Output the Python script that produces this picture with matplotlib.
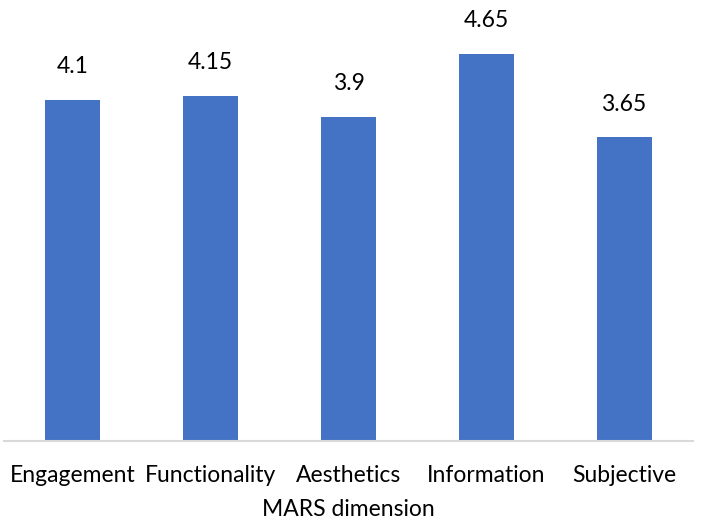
import matplotlib
matplotlib.use("Agg")
import matplotlib.pyplot as plt

dimensions = ["Engagement", "Functionality", "Aesthetics", "Information", "Subjective"]
scores = [4.1, 4.15, 3.9, 4.65, 3.65]

plt.rcParams['font.family'] = ['Lato', 'DejaVu Sans']

fig = plt.figure(figsize=(7.01, 5.23), dpi=100)
ax = fig.add_axes([4 / 701, 1 - 441 / 523, 689 / 701, 416 / 523])

bars = ax.bar(dimensions, scores, width=0.4, color="#4472C4")
ax.set_xlim(-0.5, len(dimensions) - 0.5)
ax.set_ylim(0, 5)

for rect, val in zip(bars, scores):
    ax.text(rect.get_x() + rect.get_width() / 2, val + 0.40, f"{val:g}",
            ha="center", va="center", fontsize=16.5)

for side in ["top", "right", "left"]:
    ax.spines[side].set_visible(False)
ax.spines["bottom"].set_color("#D9D9D9")
ax.spines["bottom"].set_linewidth(1.5)
ax.set_yticks([])
ax.tick_params(axis="x", length=0, pad=17, labelsize=16.5)
ax.set_xlabel("MARS dimension", fontsize=16.5, labelpad=10)

fig.savefig("out.png", dpi=100)
